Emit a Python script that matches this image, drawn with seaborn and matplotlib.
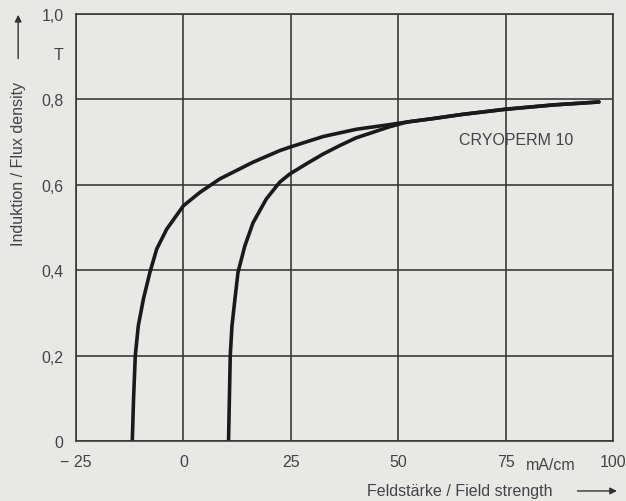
import numpy as np
import pandas as pd
import seaborn as sns
import matplotlib.pyplot as plt

# Daten: Hysterese-Äste (Feldstärke in mA/cm, Induktion in T)
b_left = [0, 0.1, 0.2, 0.27, 0.333, 0.395, 0.45, 0.496, 0.551, 0.582, 0.614, 0.653,
          0.680, 0.688, 0.713, 0.730, 0.741, 0.747, 0.755, 0.765, 0.777, 0.787, 0.794]
h_left = [-11.9, -11.6, -11.2, -10.5, -9.3, -7.8, -6.2, -3.9, 0.0, 3.8, 8.5, 16.2,
          22.4, 24.7, 32.5, 40.2, 48.0, 52.0, 58.0, 65.0, 75.0, 86.0, 96.7]

b_right = [0, 0.1, 0.2, 0.27, 0.333, 0.395, 0.457, 0.511, 0.567, 0.606, 0.625, 0.649,
           0.672, 0.692, 0.710, 0.723, 0.736, 0.747, 0.755, 0.765, 0.777, 0.787, 0.794]
h_right = [10.5, 10.7, 10.9, 11.3, 12.0, 12.7, 14.3, 16.2, 19.3, 22.4, 24.7, 28.6,
           32.5, 36.4, 40.2, 44.1, 48.0, 52.0, 58.0, 65.0, 75.0, 86.0, 96.7]

x_ticks = [-25, 0, 25, 50, 75, 100]
x_labels = ['\u2212 25', '0', '25', '50', '75', '100']
y_ticks = [0, 0.2, 0.4, 0.6, 0.8, 1.0]
y_labels = ['0', '0,2', '0,4', '0,6', '0,8', '1,0']

bg = '#e8e8e6'
ink = '#3a3a3a'
txt = '#444444'
fs = 11.5

sns.set_theme(style="white")
plt.rcParams['font.family'] = ['Liberation Sans', 'DejaVu Sans']

df = pd.concat([
    pd.DataFrame({'H': h_left, 'B': b_left, 'branch': 'left'}),
    pd.DataFrame({'H': h_right, 'B': b_right, 'branch': 'right'}),
])

fig = plt.figure(figsize=(6.26, 5.02), dpi=100, facecolor=bg)
ax = fig.add_axes([0.1214, 0.1195, 0.858, 0.8506], facecolor=bg)

sns.lineplot(data=df, x='H', y='B', units='branch', estimator=None, sort=False,
             color='#1a1a1a', linewidth=2.6, solid_joinstyle='round',
             solid_capstyle='round', ax=ax)

ax.set_xlim(-25, 100)
ax.set_ylim(0, 1.0)
ax.set_xticks(x_ticks)
ax.set_xticklabels(x_labels)
ax.set_yticks(y_ticks)
ax.set_yticklabels(y_labels)
ax.set_xlabel('')
ax.set_ylabel('')

ax.grid(True, color=ink, linewidth=1.2)
for s in ax.spines.values():
    s.set_visible(True)
    s.set_color(ink)
    s.set_linewidth(1.2)
ax.tick_params(axis='both', direction='out', length=5, width=1.2, color=ink,
               labelsize=fs, labelcolor=txt, pad=4)

ax.text(77.4, 0.707, 'CRYOPERM 10', fontsize=fs, color=txt, ha='center', va='center')

# Einheiten
fig.text(0.093, 0.890, 'T', fontsize=fs, color=txt, ha='center', va='center')
fig.text(0.880, 0.073, 'mA/cm', fontsize=fs, color=txt, ha='center', va='center')

# Achsenbeschriftungen mit Pfeilen
fig.text(0.029, 0.674, 'Induktion / Flux density', rotation=90, fontsize=fs,
         color=txt, ha='center', va='center')
fig.text(0.735, 0.020, 'Feldstärke / Field strength', fontsize=fs,
         color=txt, ha='center', va='center')
fig.add_artist(plt.Annotation('', xy=(0.029, 0.974), xytext=(0.029, 0.876),
                              xycoords='figure fraction', textcoords='figure fraction',
                              arrowprops=dict(arrowstyle='-|>', color='#333333', lw=1.0,
                                              mutation_scale=10)))
fig.add_artist(plt.Annotation('', xy=(0.99, 0.020), xytext=(0.918, 0.020),
                              xycoords='figure fraction', textcoords='figure fraction',
                              arrowprops=dict(arrowstyle='-|>', color='#333333', lw=1.0,
                                              mutation_scale=10)))

plt.savefig('out.png', dpi=100, facecolor=bg)
